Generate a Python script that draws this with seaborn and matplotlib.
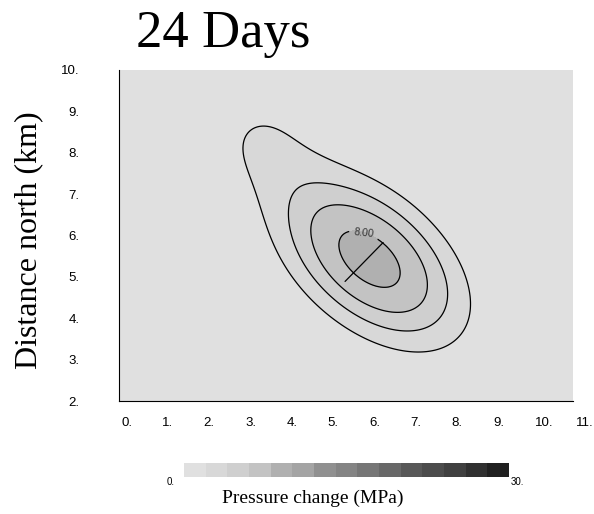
import numpy as np
import matplotlib
matplotlib.use("Agg")
import matplotlib.pyplot as plt
from matplotlib.transforms import ScaledTranslation
import seaborn as sns

# Pressure field description (MPa): main pressurised lobe plus a north-west tail
main_center = (6.08, 5.42)
main_peak = 8.6
main_axes = (2.45, 1.44)      # half-lengths along / across the lobe axis
main_angle = -40.0            # lobe axis direction, degrees from east
main_power = 2.5
tail_offset = (-3.8, 0.5)     # tail position in lobe-axis coordinates
tail_peak = 2.0
tail_sigma = (1.1, 0.95)

levels = list(range(0, 32, 2))
line_levels = [2, 4, 6]
labelled_level = [8]
gray_values = [224, 216, 207, 195, 176, 164, 144, 132, 118, 104, 88, 76, 64, 48, 32]
x_ticks = list(range(0, 12))
y_ticks = list(range(2, 11))
x_ticklabels = [f"{v}." for v in x_ticks]
y_ticklabels = [f"{v}." for v in y_ticks]
fault_x = [5.48, 6.40]
fault_y = [4.89, 5.83]
label_point = [(5.87, 5.85)]

sns.set_style("white")
plt.rcParams["font.family"] = ["Liberation Sans", "DejaVu Sans"]
plt.rcParams["text.color"] = "black"
plt.rcParams["axes.labelcolor"] = "black"
plt.rcParams["xtick.color"] = "black"
plt.rcParams["ytick.color"] = "black"

palette = sns.color_palette([f"#{g:02x}{g:02x}{g:02x}" for g in gray_values])

x = np.linspace(0, 11, 441)
y = np.linspace(2, 10, 321)
X, Y = np.meshgrid(x, y)
th = np.deg2rad(main_angle)
dx = X - main_center[0]
dy = Y - main_center[1]
U = dx * np.cos(th) + dy * np.sin(th)
V = -dx * np.sin(th) + dy * np.cos(th)
rho = np.sqrt((U / main_axes[0])**2 + (V / main_axes[1])**2)
P = main_peak * np.exp(-rho**main_power)
P += tail_peak * np.exp(-0.5 * (((U - tail_offset[0]) / tail_sigma[0])**2
                                + ((V - tail_offset[1]) / tail_sigma[1])**2))

fig = plt.figure(figsize=(5.94, 5.14), dpi=100)
ax = fig.add_axes([118.5 / 594, 1 - 401 / 514, (573.3 - 118.5) / 594, (401 - 70) / 514])
ax.set_facecolor(palette[0])

cs = ax.contourf(X, Y, P, levels=levels, colors=palette)
ax.contour(X, Y, P, levels=line_levels, colors="black", linewidths=0.9)
c8 = ax.contour(X, Y, P, levels=labelled_level, colors="black", linewidths=0.9)
texts = ax.clabel(c8, fmt="%.2f", manual=label_point, fontsize=7.5, colors="#333333",
                  inline=True)
for t in texts:
    t.set_rotation(-6)
ax.plot(fault_x, fault_y, color="black", lw=0.9)

ax.set_xlim(0, 11)
ax.set_ylim(2, 10)
sns.despine(ax=ax, top=True, right=True)
for s in ["left", "bottom"]:
    ax.spines[s].set_color("black")
    ax.spines[s].set_linewidth(0.8)

ax.set_xticks(x_ticks)
ax.set_xticklabels(x_ticklabels, fontsize=9.5, ha="left")
ax.set_yticks(y_ticks)
ax.set_yticklabels(y_ticklabels, fontsize=9.5)
ax.tick_params(axis="x", direction="out", length=6, width=0.8, pad=5.5)
ax.tick_params(axis="y", direction="out", length=8.3, width=0.8, pad=20)
shift = ScaledTranslation(2.5 / 100, 0, fig.dpi_scale_trans)
for t in ax.get_xticklabels():
    t.set_transform(t.get_transform() + shift)

ax.set_ylabel("Distance north (km)", family="Liberation Serif", fontsize=23)
ax.yaxis.set_label_coords(-0.166, 0.486)

fig.text(223 / 594, 1 - 47 / 514, "24 Days", family="Liberation Serif", fontsize=38,
         ha="center", va="baseline")

cax = fig.add_axes([184 / 594, 1 - 477 / 514, 325 / 594, 14 / 514])
cb = fig.colorbar(cs, cax=cax, orientation="horizontal")
cb.outline.set_visible(False)
cb.set_ticks([])
cax.tick_params(length=0)
fig.text(171 / 594, 1 - 482 / 514, "0.", fontsize=7, ha="center", va="center")
fig.text(517 / 594, 1 - 482 / 514, "30.", fontsize=7, ha="center", va="center")
fig.text(313 / 594, 1 - 503 / 514, "Pressure change (MPa)", family="Liberation Serif",
         fontsize=14, ha="center", va="baseline")

fig.savefig("out.png", dpi=100)
